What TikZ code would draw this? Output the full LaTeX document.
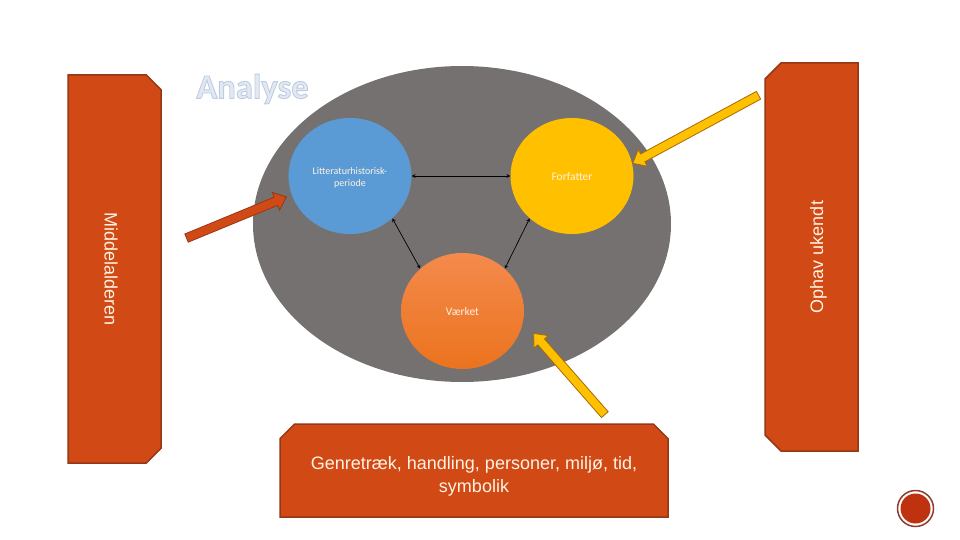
\documentclass[tikz,border=0pt]{standalone}
\usepackage{fontspec}
\usepackage{xcolor}
\setmainfont{Liberation Sans}
\newfontfamily\circlefont{Carlito}
\usetikzlibrary{shapes.geometric,shapes.arrows,shapes.misc}
\definecolor{boxfill}{RGB}{209,73,21}
\definecolor{boxline}{RGB}{148,56,22}
\definecolor{wheel}{RGB}{118,113,113}
\definecolor{litblue}{RGB}{91,155,213}
\definecolor{gold}{RGB}{255,192,0}
\definecolor{goldline}{RGB}{166,106,10}
\definecolor{cream}{RGB}{255,243,228}
\definecolor{warmtop}{RGB}{244,138,76}
\definecolor{warmbot}{RGB}{235,115,30}
\definecolor{titlefill}{RGB}{226,233,243}
\definecolor{markline}{RGB}{140,60,45}
\definecolor{markfill}{RGB}{190,50,15}

\begin{document}
\begin{tikzpicture}[x=1pt,y=-1pt,
      every node/.style={inner sep=0pt},
      side/.style={chamfered rectangle,draw=boxline,line width=1.5pt,fill=boxfill,text=cream,
        chamfered rectangle corners={north west,north east},minimum width=388pt,minimum height=93pt,
        font=\fontsize{18}{23}\selectfont,align=center},
      disc/.style={ellipse,minimum width=123pt,minimum height=116pt,text=cream,
        font=\circlefont\fontsize{11.5}{12.5}\selectfont,align=center},
      link/.style={<->,>=stealth,line width=0.7pt,black},
      blockred/.style={single arrow,draw=boxline,fill=boxfill,line width=0.8pt,inner sep=4pt,minimum width=19pt,
        single arrow head extend=5pt,single arrow tip angle=80},
      blockgold/.style={blockred,draw=goldline,fill=gold}]
      \useasboundingbox (0,0) rectangle (960,540);
      % wheel and title
      \node[ellipse,fill=wheel,minimum width=418pt,minimum height=316pt] (wheel) at (462,224) {};
      \node[text=titlefill,font=\fontsize{34.5}{34.5}\selectfont\circlefont\bfseries] (title) at (252.5,89)
        {\special{pdf:code 2 Tr 0.9 w 0.745 0.8 0.878 RG}Analyse\special{pdf:code 0 Tr}};
      % the three circles
      \node[disc,fill=litblue,font=\circlefont\fontsize{10}{12.5}\selectfont] (lit) at (350,176)
        {\raisebox{-2pt}[\height][\depth]{\begin{tabular}{@{}c@{}}Litteraturhistorisk-\\periode\end{tabular}}};
      \node[disc,fill=gold] (forf) at (572,176) {\raisebox{-1pt}[\height][\depth]{Forfatter}};
      \node[disc,top color=warmtop,bottom color=warmbot] (vaerk) at (462.5,311) {\raisebox{-1pt}[\height][\depth]{Værket}};
      \draw[link] (lit.east) -- (forf.west);
      \draw[link] (lit.-45) -- (vaerk.135);
      \draw[link] (forf.-135) -- (vaerk.45);
      % side boxes
      \node[side,rotate=-90,chamfered rectangle xsep=8pt,chamfered rectangle ysep=8pt]
        (periode) at (114.5,269) {\raisebox{-3.5pt}[\height][\depth]{Middelalderen}};
      \node[side,rotate=90,chamfered rectangle xsep=8pt,chamfered rectangle ysep=8pt]
        (ophav) at (811.5,257) {\raisebox{-7pt}[\height][\depth]{Ophav ukendt}};
      \node[side,chamfered rectangle xsep=7.3pt,chamfered rectangle ysep=7.3pt]
        (genre) at (474,470.5) {\raisebox{-5.5pt}[\height][\depth]{\begin{tabular}{@{}c@{}}Genretræk, handling, personer, miljø, tid,\\symbolik\end{tabular}}};
      % block arrows
      \node[blockred,rotate=22.4,minimum height=108pt] (pilrod) at (234,218.5) {};
      \node[blockgold,rotate=208.4,minimum height=143pt] (pilforf) at (698,128) {};
      \node[blockgold,rotate=131.2,minimum height=108pt] (pilvaerk) at (571,376) {};
      % page mark
      \node[circle,draw=markline,line width=1.5pt,fill=white,minimum size=36pt] (maerke) at (915.5,508.5) {};
      \node[circle,fill=markfill,minimum size=30pt] (maerkeind) at (915.5,508.5) {};
\end{tikzpicture}
\end{document}
